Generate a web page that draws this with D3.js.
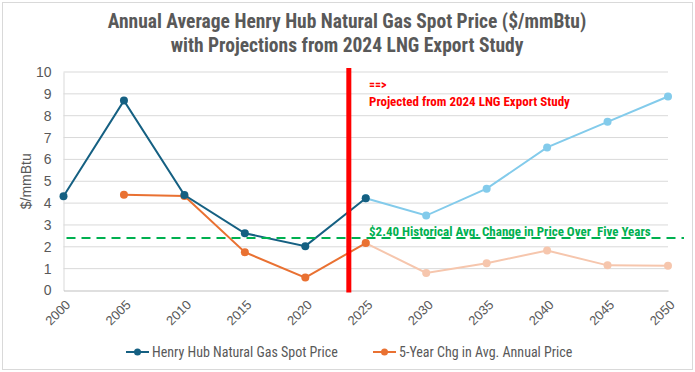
<!DOCTYPE html>
<html>
<head>
<meta charset="utf-8">
<script src="https://cdn.jsdelivr.net/npm/d3@7"></script>
<style>
  body { margin: 0; background: #fff; }
  svg text { font-family: "Liberation Sans Narrow", "Roboto Condensed", "DejaVu Sans Condensed", sans-serif; }
</style>
</head>
<body>
<svg id="chart"></svg>
<script>
const years = [2000, 2005, 2010, 2015, 2020, 2025, 2030, 2035, 2040, 2045, 2050]
const tickLabels = ['2000', '2005', '2010', '2015', '2020', '2025', '2030', '2035', '2040', '2045', '2050']
// Henry Hub spot price, historical up to 2025 then projected
const hubHistory = [4.31, 8.69, 4.37, 2.62, 2.03, 4.22]
const hubProjected = [4.22, 3.43, 4.66, 6.55, 7.72, 8.88]
// 5-year change in average annual price
const chgHistory = [null, 4.38, 4.32, 1.75, 0.59, 2.17]
const chgProjected = [2.17, 0.80, 1.25, 1.83, 1.15, 1.13]
const histAvgChange = 2.4
const dividerYear = 2023.6
const yTicks = [0, 1, 2, 3, 4, 5, 6, 7, 8, 9, 10]

const width = 695
const height = 372
const svg = d3.select('#chart').attr('width', width).attr('height', height)

const x = d3.scaleLinear().domain([2000, 2050]).range([63.5, 668])
const y = d3.scaleLinear().domain([0, 10]).range([290.5, 72])

const dark = '#156082'
const light = '#83CBEB'
const orange = '#E97132'
const lightOrange = '#F6C6AD'
const textGray = '#595959'

// chart border
svg.append('rect')
    .attr('x', 2.5).attr('y', 2.5)
    .attr('width', width - 5).attr('height', height - 5)
    .attr('fill', '#fff').attr('stroke', '#D9D9D9')

// title
const title = svg.append('text')
    .attr('text-anchor', 'middle')
    .attr('fill', textGray)
    .attr('font-size', 19.5)
    .attr('font-weight', 'bold')
title.append('tspan').attr('x', 347).attr('y', 28).text('Annual Average Henry Hub Natural Gas Spot Price ($/mmBtu)')
title.append('tspan').attr('x', 347).attr('y', 52).text('with Projections from 2024 LNG Export Study')

// gridlines
svg.append('g')
    .selectAll('line')
    .data(yTicks.filter(d => d > 0))
    .enter()
    .append('line')
    .attr('x1', x(2000)).attr('x2', x(2050))
    .attr('y1', d => y(d)).attr('y2', d => y(d))
    .attr('stroke', '#D9D9D9')

// y axis
const yAxis = svg.append('g')
    .attr('transform', 'translate(' + x(2000) + ',0)')
    .call(d3.axisLeft(y).tickValues(yTicks).tickSize(0).tickPadding(12))
yAxis.select('.domain').attr('stroke', '#D9D9D9')
yAxis.selectAll('text').attr('font-size', 14).attr('fill', textGray)
    .style('font-family', '"Liberation Sans", Arial, sans-serif')

// x axis
const xAxis = svg.append('g')
    .attr('transform', 'translate(0,' + y(0) + ')')
    .call(d3.axisBottom(x).tickValues(years).tickFormat((d, i) => tickLabels[i]).tickSize(0))
xAxis.select('.domain').attr('stroke', '#BFBFBF')
xAxis.selectAll('text')
    .attr('font-size', 13)
    .attr('fill', textGray)
    .style('font-family', '"Liberation Sans", Arial, sans-serif')
    .attr('text-anchor', 'end')
    .attr('dy', 0)
    .attr('transform', 'translate(5,13) rotate(-45)')

// axis title
svg.append('text')
    .attr('transform', 'translate(31,' + y(5) + ') rotate(-90)')
    .attr('text-anchor', 'middle')
    .attr('fill', textGray)
    .attr('font-size', 14)
    .style('font-family', '"Liberation Sans", Arial, sans-serif')
    .text('$/mmBtu')

const toPoints = (vals, startIdx) => vals
    .map((v, i) => ({ year: years[startIdx + i], value: v }))
    .filter(d => d.value !== null)

const line = d3.line().x(d => x(d.year)).y(d => y(d.value))

const drawSeries = (pts, color) => {
    svg.append('path')
        .datum(pts)
        .attr('d', line)
        .attr('fill', 'none')
        .attr('stroke', color)
        .attr('stroke-width', 2)
    svg.append('g')
        .selectAll('circle')
        .data(pts)
        .enter()
        .append('circle')
        .attr('cx', d => x(d.year))
        .attr('cy', d => y(d.value))
        .attr('r', 4)
        .attr('fill', color)
}

drawSeries(toPoints(chgProjected, 5), lightOrange)
drawSeries(toPoints(hubProjected, 5), light)
drawSeries(toPoints(chgHistory, 0), orange)
drawSeries(toPoints(hubHistory, 0), dark)

// historical average change line
svg.append('line')
    .attr('x1', x(2000) + 3).attr('x2', 684)
    .attr('y1', y(histAvgChange)).attr('y2', y(histAvgChange))
    .attr('stroke', '#00B050')
    .attr('stroke-width', 2)
    .attr('stroke-dasharray', '9,6')

// divider
svg.append('line')
    .attr('x1', x(dividerYear)).attr('x2', x(dividerYear))
    .attr('y1', 68).attr('y2', y(0) + 2)
    .attr('stroke', '#FF0000')
    .attr('stroke-width', 5)

// annotations
svg.append('text')
    .attr('x', 369).attr('y', 89)
    .attr('fill', '#FF0000').attr('font-size', 12).attr('font-weight', 'bold')
    .text('==>')
svg.append('text')
    .attr('x', 369).attr('y', 106)
    .attr('fill', '#FF0000').attr('font-size', 13).attr('font-weight', 'bold')
    .text('Projected from 2024 LNG Export Study')
svg.append('text')
    .attr('x', 369).attr('y', 236)
    .attr('fill', '#00B050').attr('font-size', 13).attr('font-weight', 'bold')
    .text('$2.40 Historical Avg. Change in Price Over  Five Years')
    .style('white-space', 'pre')

// legend
const legendItems = [
    { label: 'Henry Hub Natural Gas Spot Price', color: dark, x: 126 },
    { label: '5-Year Chg in Avg. Annual Price', color: orange, x: 373 }
]
const legendElem = svg.append('g')
    .selectAll('g')
    .data(legendItems)
    .enter()
    .append('g')
    .attr('transform', d => 'translate(' + d.x + ',352)')
legendElem.append('line')
    .attr('x1', 0).attr('x2', 23)
    .attr('stroke', d => d.color).attr('stroke-width', 2)
legendElem.append('circle')
    .attr('cx', 11.5).attr('r', 3.5)
    .attr('fill', d => d.color)
legendElem.append('text')
    .attr('x', 26).attr('y', 5)
    .attr('fill', textGray).attr('font-size', 14)
    .text(d => d.label)
</script>
</body>
</html>
